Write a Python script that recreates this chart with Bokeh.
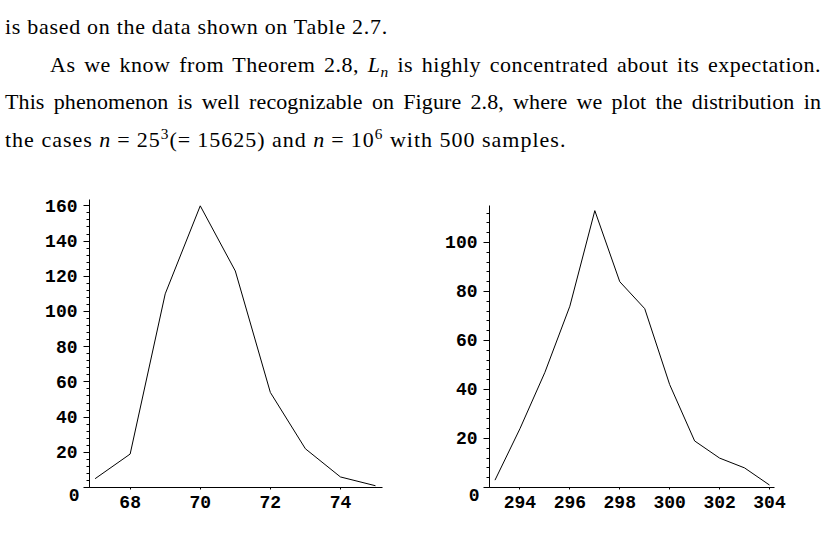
from bokeh.plotting import figure
from bokeh.models import Range1d, SingleIntervalTicker, FixedTicker, LinearAxis, Div
from bokeh.layouts import column, row
from bokeh.embed import file_html
from bokeh.resources import INLINE

# ---- data (counts out of 500 samples) ----
n1_values = [67, 68, 69, 70, 71, 72, 73, 74, 75]
n1_counts = [5, 19, 110, 160, 123, 54, 22, 6, 1]

n2_values = [293, 294, 295, 296, 297, 298, 299, 300, 301, 302, 303, 304]
n2_counts = [3, 24, 47, 74, 113, 84, 73, 42, 19, 12, 8, 1]

# ---- page text ----
EQ = "<span style='margin:0 6px'>=</span>"
SUP = "style='font-size:0.7em;vertical-align:0.5em;line-height:0'"
SUB = "style='font-size:0.7em;vertical-align:-0.3em;line-height:0'"
page_lines = [
    "is based on the data shown on Table 2.7.",
    f"As we know from Theorem 2.8, <i>L</i><sub {SUB}><i>n</i></sub> is highly concentrated about its expectation.",
    "This phenomenon is well recognizable on Figure 2.8, where we plot the distribution in",
    f"the cases <i>n</i>{EQ}25<sup {SUP}>3</sup>(<span style='margin-right:6px'>=</span>15625) and <i>n</i>{EQ}10<sup {SUP}>6</sup> with 500 samples.",
]

TICK_FONT = "Liberation Mono"
TICK_SIZE = "18px"

html = (
    "<div style=\"font-family:'Liberation Serif',serif;font-size:22px;line-height:37.5px;"
    "color:#000;width:821px;padding:8px 0 0 5px;margin:0;\">"
    f"<div style='white-space:nowrap;letter-spacing:0.7px'>{page_lines[0]}</div>"
    f"<div style='text-indent:45px;text-align:justify;text-align-last:justify;letter-spacing:0.5px'>{page_lines[1]}</div>"
    f"<div style='text-align:justify;text-align-last:justify;letter-spacing:0.1px'>{page_lines[2]}</div>"
    f"<div style='white-space:nowrap;letter-spacing:1px'>{page_lines[3]}</div>"
    "</div>"
)
text_div = Div(text=html, width=834, height=170, margin=0,
               styles={"font-size": "22px", "font-family": "Liberation Serif"})


def style_labels(ax):
    ax.major_label_text_font = TICK_FONT
    ax.major_label_text_font_style = "bold"
    ax.major_label_text_font_size = TICK_SIZE
    ax.major_label_text_color = "black"


def make_plot(xs, ys, width, x_range, y_end, y_axis_top, mb_left, mb_right):
    p = figure(width=width, height=369, output_backend="svg", toolbar_location=None,
               title_location=None,
               x_range=Range1d(*x_range), y_range=Range1d(0, y_end),
               min_border_left=mb_left, min_border_right=mb_right,
               min_border_top=29, min_border_bottom=52)
    p.outline_line_color = None
    p.xgrid.visible = False
    p.ygrid.visible = False
    p.background_fill_color = "white"
    p.border_fill_color = "white"

    p.line(xs, ys, line_color="black", line_width=1)

    p.xaxis.ticker = SingleIntervalTicker(interval=2, num_minor_ticks=0)
    p.yaxis.ticker = SingleIntervalTicker(interval=20, num_minor_ticks=5)
    p.yaxis.bounds = (0, y_axis_top)
    for ax in (p.xaxis[0], p.yaxis[0]):
        ax.axis_line_color = "black"
        ax.axis_line_width = 1
        ax.major_tick_line_color = "black"
        ax.minor_tick_line_color = "black"
        style_labels(ax)
    p.xaxis.major_tick_in = 0
    p.xaxis.major_tick_out = 2
    p.xaxis.major_label_standoff = 6
    p.yaxis.major_tick_in = 0
    p.yaxis.major_tick_out = 6
    p.yaxis.minor_tick_in = 0
    p.yaxis.minor_tick_out = 3
    p.yaxis.major_label_standoff = 6
    p.yaxis.major_label_overrides = {0: ""}

    # the "0" label sits just below the corner, as in the original:
    # a label-only axis whose single (two-line) label hangs below the origin
    zero_axis = LinearAxis(ticker=FixedTicker(ticks=[0], minor_ticks=[]),
                           axis_line_color=None, major_tick_line_color=None,
                           minor_tick_line_color=None,
                           major_tick_in=0, major_tick_out=0,
                           major_label_overrides={0: "\n0"},
                           major_label_text_line_height=0.85,
                           major_label_standoff=-37)
    style_labels(zero_axis)
    p.add_layout(zero_axis, "left")
    return p


# frame: top 199, bottom 487 (288 px tall) on the page
p1 = make_plot(n1_values, n1_counts, 420, (66.84, 75.2), 163.6, 163.6, 89, 38)
p2 = make_plot(n2_values, n2_counts, 414, (292.78, 304.2), 117.55, 115.2, 69, 60)

layout = column(text_div, row(p1, p2, spacing=0), spacing=0)

with open("out.html", "w") as f:
    f.write(file_html(layout, INLINE))
